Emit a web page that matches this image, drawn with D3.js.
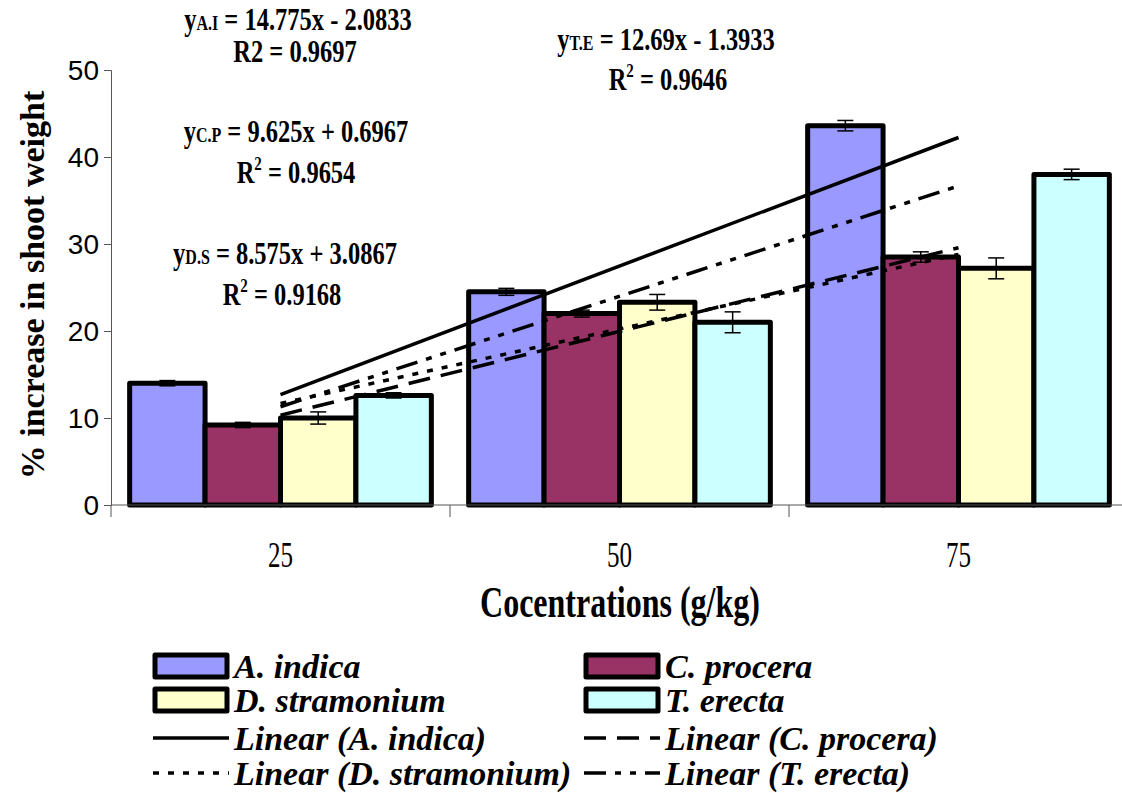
<!DOCTYPE html>
<html>
<head>
<meta charset="utf-8">
<script src="https://d3js.org/d3.v7.min.js"></script>
<style>
  body { margin: 0; background: #fff; }
  svg { font-family: "Liberation Serif", "Times New Roman", serif; }
</style>
</head>
<body>
<div id="chart"></div>
<script>
// data
var concentrations = ["25", "50", "75"];
var species = ["A. indica", "C. procera", "D. stramonium", "T. erecta"];
var colors = ["#9999ff", "#993366", "#ffffcc", "#ccffff"];
var aIndica = [14.0, 24.5, 43.6];
var cProcera = [9.2, 22.0, 28.5];
var dStramonium = [10.0, 23.3, 27.2];
var tErecta = [12.6, 21.0, 38.0];
var aIndicaErr = [0.3, 0.4, 0.6];
var cProceraErr = [0.3, 0.4, 0.6];
var dStramoniumErr = [0.7, 0.9, 1.2];
var tErectaErr = [0.3, 1.2, 0.6];
// trendlines y = a*x + b, x = 1,2,3
var slopes = [14.775, 9.625, 8.575, 12.69];
var intercepts = [-2.0833, 0.6967, 3.0867, -1.3933];
var yTicks = [0, 10, 20, 30, 40, 50];

var values = [aIndica, cProcera, dStramonium, tErecta];
var errors = [aIndicaErr, cProceraErr, dStramoniumErr, tErectaErr];
var dashes = [null, "22,11", "6,9", "22,9,6,9,6,9"];

var width = 1122, height = 793;
var svg = d3.select("#chart").append("svg")
  .attr("width", width)
  .attr("height", height);

var plotLeft = 111, plotRight = 1128, plotTop = 70, plotBottom = 505;

var x0 = d3.scaleBand().domain(concentrations).range([plotLeft, plotRight]).paddingInner(0.11).paddingOuter(0.055);
var x1 = d3.scaleBand().domain(species).range([0, x0.bandwidth()]);
var yScale = d3.scaleLinear().domain([0, 50]).range([plotBottom, plotTop]);

// text that is a bit taller than wide, like the original
function tallText(x, y, sy, size) {
  return svg.append("text")
    .attr("transform", "translate(" + x + "," + y + ") scale(1," + sy + ")")
    .style("font-size", size + "px");
}

// bars
concentrations.forEach(function(c, ci) {
  species.forEach(function(s, si) {
    var v = values[si][ci];
    svg.append("rect")
      .attr("x", x0(c) + x1(s))
      .attr("y", yScale(v))
      .attr("width", x1.bandwidth())
      .attr("height", yScale(0) - yScale(v))
      .style("fill", colors[si])
      .style("stroke", "#000")
      .style("stroke-width", 5)
      .style("stroke-linejoin", "round");
  });
});

// error bars
concentrations.forEach(function(c, ci) {
  species.forEach(function(s, si) {
    var v = values[si][ci], e = errors[si][ci];
    var cx = x0(c) + x1(s) + x1.bandwidth() / 2;
    var g = svg.append("g").style("stroke", "#000").style("stroke-width", 1.5);
    g.append("line").attr("x1", cx).attr("x2", cx).attr("y1", yScale(v - e)).attr("y2", yScale(v + e));
    g.append("line").attr("x1", cx - 8).attr("x2", cx + 8).attr("y1", yScale(v - e)).attr("y2", yScale(v - e));
    g.append("line").attr("x1", cx - 8).attr("x2", cx + 8).attr("y1", yScale(v + e)).attr("y2", yScale(v + e));
  });
});

// trendlines from first to last category centre
var xTrend = d3.scaleLinear().domain([1, 3])
  .range([x0(concentrations[0]) + x0.bandwidth() / 2, x0(concentrations[2]) + x0.bandwidth() / 2]);
slopes.forEach(function(a, i) {
  var b = intercepts[i];
  svg.append("line")
    .attr("x1", xTrend(1)).attr("y1", yScale(a * 1 + b))
    .attr("x2", xTrend(3)).attr("y2", yScale(a * 3 + b))
    .style("stroke", "#000")
    .style("stroke-width", 3.5)
    .style("stroke-dasharray", dashes[i]);
});

// axes
var yAxis = svg.append("g")
  .attr("transform", "translate(" + plotLeft + ",0)")
  .call(d3.axisLeft(yScale).tickValues(yTicks).tickSize(7).tickPadding(5));
yAxis.selectAll("text").style("font-size", "28px").style("fill", "#000").attr("dy", "0.34em");
yAxis.selectAll("line, path").style("stroke", "#555");

var xEdge = d3.scaleLinear().domain([0, 3]).range([plotLeft, plotRight]);
svg.append("line").attr("x1", plotLeft).attr("x2", plotRight).attr("y1", plotBottom).attr("y2", plotBottom)
  .style("stroke", "#555");
d3.range(4).forEach(function(i) {
  svg.append("line").attr("x1", xEdge(i)).attr("x2", xEdge(i)).attr("y1", plotBottom).attr("y2", plotBottom + 12)
    .style("stroke", "#555");
});
concentrations.forEach(function(c) {
  tallText(x0(c) + x0.bandwidth() / 2, 567, 1.4, 25)
    .attr("text-anchor", "middle")
    .text(c);
});

// axis titles
tallText(620, 617, 1.4, 32)
  .attr("text-anchor", "middle")
  .style("font-weight", "bold")
  .text("Cocentrations (g/kg)");
svg.append("text")
  .attr("transform", "translate(44,285) rotate(-90)")
  .attr("text-anchor", "middle")
  .style("font-size", "34px").style("font-weight", "bold")
  .text("% increase in shoot weight");

// equations
var equations = [
  {sub: "A.I", eq: " = 14.775x - 2.0833", r: "R2 = 0.9697", sup: false, x: 298, y: 30, rx: 295, ry: 62},
  {sub: "C.P", eq: " = 9.625x + 0.6967", r: "0.9654", sup: true, x: 296, y: 142, rx: 296, ry: 183},
  {sub: "D.S", eq: " = 8.575x + 3.0867", r: "0.9168", sup: true, x: 285, y: 264, rx: 282, ry: 305},
  {sub: "T.E", eq: " = 12.69x - 1.3933", r: "0.9646", sup: true, x: 666, y: 50, rx: 668, ry: 90}
];
equations.forEach(function(d) {
  var t = tallText(d.x, d.y, 1.3, 24.5)
    .attr("text-anchor", "middle")
    .style("font-weight", "bold");
  t.append("tspan").text("y");
  t.append("tspan").style("font-size", "16px").text(d.sub);
  t.append("tspan").text(d.eq);
  var r = tallText(d.rx, d.ry, 1.3, 24.5)
    .attr("text-anchor", "middle")
    .style("font-weight", "bold");
  if (d.sup) {
    r.append("tspan").text("R");
    r.append("tspan").attr("dy", -10).style("font-size", "15px").text("2");
    r.append("tspan").attr("dy", 10).text(" = " + d.r);
  } else {
    r.text(d.r);
  }
});

// legend
var legendItems = [
  {label: "A. indica", type: "box", i: 0, col: 0, row: 0},
  {label: "C. procera", type: "box", i: 1, col: 1, row: 0},
  {label: "D. stramonium", type: "box", i: 2, col: 0, row: 1},
  {label: "T. erecta", type: "box", i: 3, col: 1, row: 1},
  {label: "Linear (A. indica)", type: "line", i: 0, col: 0, row: 2},
  {label: "Linear (C. procera)", type: "line", i: 1, col: 1, row: 2},
  {label: "Linear (D. stramonium)", type: "line", i: 2, col: 0, row: 3},
  {label: "Linear (T. erecta)", type: "line", i: 3, col: 1, row: 3}
];
var colX = [153, 584];
var rowY = [666, 700, 738, 773];
legendItems.forEach(function(d) {
  var lx = colX[d.col], ly = rowY[d.row];
  if (d.type === "box") {
    svg.append("rect")
      .attr("x", lx + 2).attr("y", ly - 11)
      .attr("width", 72).attr("height", 22)
      .style("fill", colors[d.i])
      .style("stroke", "#000").style("stroke-width", 5)
      .style("stroke-linejoin", "round");
  } else {
    svg.append("line")
      .attr("x1", lx).attr("x2", lx + 76)
      .attr("y1", ly).attr("y2", ly)
      .style("stroke", "#000").style("stroke-width", 3.5)
      .style("stroke-dasharray", dashes[d.i]);
  }
  svg.append("text")
    .attr("x", lx + 81).attr("y", ly + 12)
    .style("font-size", "34px").style("font-weight", "bold").style("font-style", "italic")
    .text(d.label);
});
</script>
</body>
</html>
